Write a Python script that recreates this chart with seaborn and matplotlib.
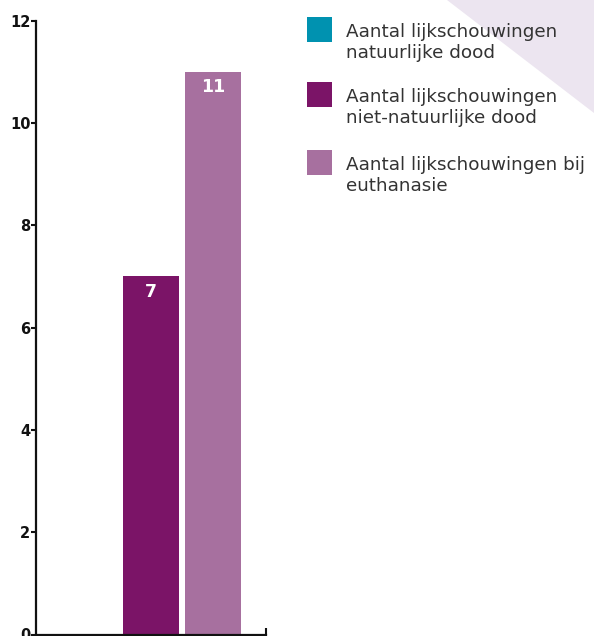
import matplotlib
matplotlib.use("Agg")
import matplotlib.pyplot as plt
from matplotlib.patches import Polygon, Rectangle
import pandas as pd
import seaborn as sns

# Data
soorten = [
    "Aantal lijkschouwingen\nnatuurlijke dood",
    "Aantal lijkschouwingen\nniet-natuurlijke dood",
    "Aantal lijkschouwingen bij\neuthanasie",
]
aantallen = [0, 7, 11]
kleuren = ["#0092b0", "#7b1467", "#a7709f"]
y_ticks = [0, 2, 4, 6, 8, 10, 12]

W, H = 594, 636

sns.set_theme(style="white")
plt.rcParams["font.family"] = ["DejaVu Sans"]

df = pd.DataFrame({"groep": [""] * len(soorten), "soort": soorten, "aantal": aantallen})

fig = plt.figure(figsize=(W / 100, H / 100), dpi=100)
ax = fig.add_axes([36 / W, 1.5 / H, 230 / W, 613.8 / H])
ax.patch.set_alpha(0)

# background triangle top right
fig.add_artist(Polygon([(447 / W, 1), (1, 1), (1, 1 - 113 / H)], closed=True,
                       transform=fig.transFigure, facecolor="#ece5f0",
                       edgecolor="none", zorder=0))

sns.barplot(data=df, x="groep", y="aantal", hue="soort", palette=kleuren,
            width=0.81, gap=0.1, saturation=1, linewidth=0, ax=ax, legend=False)

for cont in ax.containers:
    labels = [f"{v:.0f}" if v > 0 else "" for v in cont.datavalues]
    ax.bar_label(cont, labels=labels, padding=-17.5, color="white",
                 fontweight="bold", fontsize=12.5)

ax.set_ylim(0, 12)
ax.set_xlim(-0.5, 0.5)
ax.set_yticks(y_ticks)
ax.set_yticklabels([str(t) for t in y_ticks], fontweight="bold", fontsize=10.5)
ax.set_xticks([0.499])
ax.set_xticklabels([""])
ax.set_xlabel("")
ax.set_ylabel("")
ax.tick_params(axis="y", left=True, direction="out", length=3.5, width=1.5,
               pad=0.5, colors="#111111")
ax.tick_params(axis="x", bottom=True, direction="in", length=5, width=1.5,
               colors="#111111")
for side in ["top", "right"]:
    ax.spines[side].set_visible(False)
for side in ["left", "bottom"]:
    ax.spines[side].set_color("#111111")
    ax.spines[side].set_linewidth(1.6)
ax.grid(False)

# legend, drawn by hand so the square sits next to the first line
sq_top = [17, 82, 150]
for soort, kleur, top in zip(soorten, kleuren, sq_top):
    fig.add_artist(Rectangle((307 / W, 1 - (top + 25) / H), 25 / W, 25 / H,
                             transform=fig.transFigure, facecolor=kleur,
                             edgecolor="none"))
    fig.text(346 / W, 1 - (top + 6) / H, soort, fontsize=13.2, color="#333333",
             va="top", ha="left", linespacing=1.18)

fig.savefig("out.png", dpi=100)
